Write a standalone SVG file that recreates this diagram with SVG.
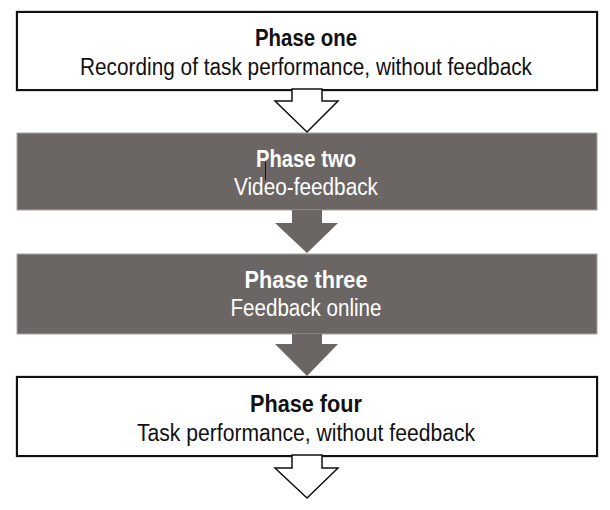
<svg xmlns="http://www.w3.org/2000/svg" width="610" height="510" viewBox="0 0 610 510">
<style>
.wbox{fill:#fff;stroke:#111;stroke-width:2}
.wshadow{fill:none;stroke:#b5b5b5;stroke-width:1}
.gbox{fill:#6b6664;stroke:#a9a6a4;stroke-width:1}
.warrow{fill:#fff;stroke:#111;stroke-width:1.5;stroke-linejoin:miter}
.garrow{fill:#6b6664;stroke:none}
.t{font-family:"Liberation Sans",Arial,sans-serif;font-size:23px;text-anchor:middle}
.b{font-weight:bold}
.dk{fill:#111}
.lt{fill:#fff}
</style>
<rect width="610" height="510" fill="#fff"/>
<g id="phase1">
<rect class="wshadow" x="16" y="11" width="582" height="80"/>
<rect class="wbox" x="17" y="12" width="580" height="78"/>
<text class="t b dk" x="306" y="46" textLength="102" lengthAdjust="spacingAndGlyphs">Phase one</text>
<text class="t dk" x="306" y="75" textLength="452" lengthAdjust="spacingAndGlyphs">Recording of task performance, without feedback</text>
</g>
<g id="phase2">
<rect class="gbox" x="17" y="133" width="580" height="77"/>
<text class="t b lt" x="306" y="167" textLength="100" lengthAdjust="spacingAndGlyphs">Phase two</text>
<text class="t lt" x="306" y="195" textLength="144" lengthAdjust="spacingAndGlyphs">Video-feedback</text>
<line x1="265.5" y1="162" x2="265.5" y2="180" stroke="#111" stroke-width="1"/>
</g>
<g id="phase3">
<rect class="gbox" x="17" y="254" width="580" height="80"/>
<text class="t b lt" x="306" y="288" textLength="123" lengthAdjust="spacingAndGlyphs">Phase three</text>
<text class="t lt" x="306" y="316" textLength="151" lengthAdjust="spacingAndGlyphs">Feedback online</text>
</g>
<g id="phase4">
<rect class="wshadow" x="16" y="376" width="582" height="81"/>
<rect class="wbox" x="17" y="377" width="580" height="79"/>
<text class="t b dk" x="306" y="412" textLength="112" lengthAdjust="spacingAndGlyphs">Phase four</text>
<text class="t dk" x="306" y="441" textLength="338" lengthAdjust="spacingAndGlyphs">Task performance, without feedback</text>
</g>
<g id="connectors">
<polygon class="warrow" points="292,89 292,101 275,101 307,132 338,101 322,101 322,89"/>
<polygon class="garrow" points="292,210 292,223 275,223 307,253 338,223 322,223 322,210"/>
<polygon class="garrow" points="292,334 292,344 275,344 307,376 338,344 322,344 322,334"/>
<polygon class="warrow" points="292,455 292,468 275,468 307,498 338,468 322,468 322,455"/>
</g>
</svg>
